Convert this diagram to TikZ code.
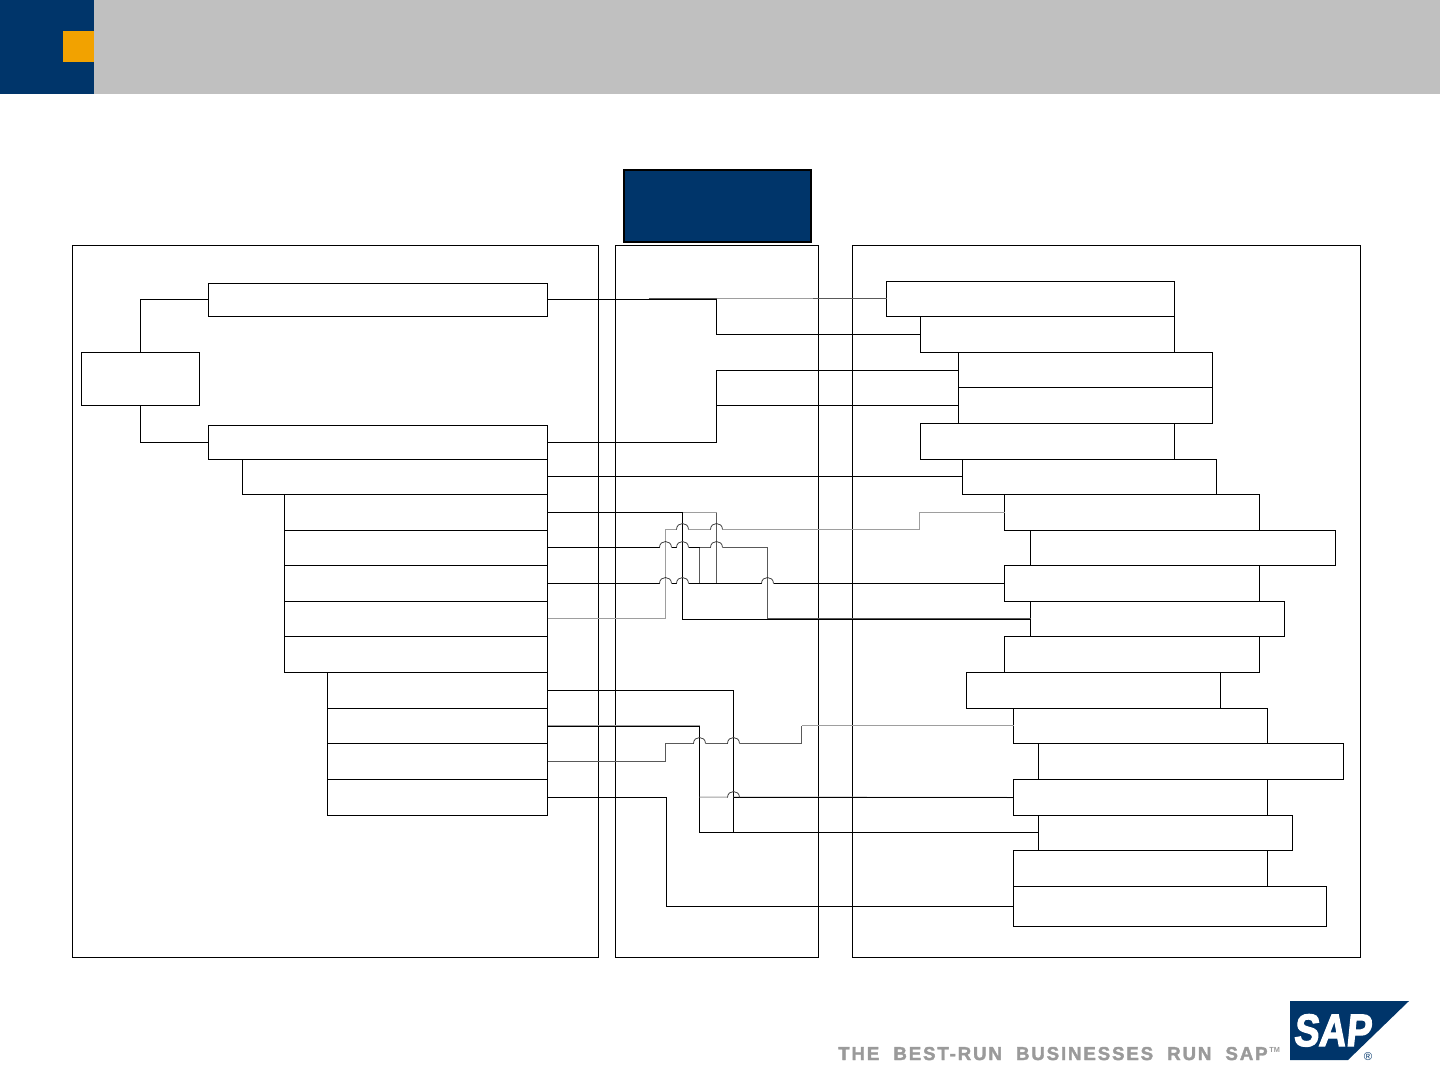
\documentclass[tikz,border=0pt]{standalone}
\usepackage{fontspec}
\setmainfont{Liberation Sans}
\newfontfamily\slogfont[LetterSpace=10,WordSpace=2,BoldFeatures={FakeBold=2}]{Liberation Sans}
\newfontfamily\sapfont[BoldFeatures={FakeBold=3,FakeSlant=0.12}]{Liberation Sans}
\definecolor{navy}{HTML}{00356A}
\definecolor{sapor}{HTML}{F2A200}
\definecolor{hdgray}{HTML}{C0C0C0}
\definecolor{slog}{HTML}{9A9A9A}
\tikzset{
  pb/.style={draw=black,line width=0.75pt,inner sep=0pt,outer sep=0pt},
  lnk/.style={draw=black,line width=0.75pt},
  lnkmid/.style={draw=black!65,line width=0.75pt},
  lnklight/.style={draw=black!38,line width=0.75pt},
  hop/.style={draw=black!80,line width=0.55pt},
  up/.style={yshift=0.375pt},
  dn/.style={yshift=-0.375pt}
}
\newcommand{\pbx}[5]{%
  \pgfmathsetlengthmacro{\pbw}{(#4-#2)*0.75pt}%
  \pgfmathsetlengthmacro{\pbh}{(#5-#3)*0.75pt}%
  \node[pb,minimum width=\pbw,minimum height=\pbh] (#1) at ({(#2+#4)/2},{(#3+#5)/2}) {};}
\begin{document}
\begin{tikzpicture}[x=0.75pt,y=-0.75pt]
\useasboundingbox (0,0) rectangle (1440,1065);
% header
\fill[hdgray] (94,0) rectangle (1440,94);
\fill[navy] (0,0) rectangle (94,94);
\fill[sapor] (63,31) rectangle (94,62);
\begin{scope}[shift={(0.5,0.5)}]
% panels
\pbx{panL}{72}{245}{598}{957}
\pbx{panM}{615}{245}{818}{957}
\pbx{panR}{852}{245}{1360}{957}
% title box
\pgfmathsetlengthmacro{\tw}{187*0.75pt}\pgfmathsetlengthmacro{\th}{72*0.75pt}
\node[draw=black,fill=navy,line width=1.5pt,inner sep=0pt,minimum width=\tw,minimum height=\th] (title) at (717,205.5) {};
% left boxes
\pbx{root}{81}{352}{199}{405}
\pbx{La}{208}{283}{547}{316}
\pbx{Lb}{208}{425}{547}{459}
\pbx{Lc}{242}{459}{547}{494}
\pbx{Ld}{284}{494}{547}{530}
\pbx{Le}{284}{530}{547}{565}
\pbx{Lf}{284}{565}{547}{601}
\pbx{Lg}{284}{601}{547}{636}
\pbx{Lh}{284}{636}{547}{672}
\pbx{Li}{327}{672}{547}{708}
\pbx{Lj}{327}{708}{547}{743}
\pbx{Lk}{327}{743}{547}{779}
\pbx{Ll}{327}{779}{547}{815}
% right boxes
\pbx{Ra}{886}{281}{1174}{316}
\pbx{Rb}{920}{316}{1174}{352}
\pbx{Rc}{958}{352}{1212}{387}
\pbx{Rd}{958}{387}{1212}{423}
\pbx{Re}{920}{423}{1174}{459}
\pbx{Rf}{962}{459}{1216}{494}
\pbx{Rg}{1004}{494}{1259}{530}
\pbx{Rh}{1030}{530}{1335}{565}
\pbx{Ri}{1004}{565}{1259}{601}
\pbx{Rj}{1030}{601}{1284}{636}
\pbx{Rk}{1004}{636}{1259}{672}
\pbx{Rl}{966}{672}{1220}{708}
\pbx{Rm}{1013}{708}{1267}{743}
\pbx{Rn}{1038}{743}{1343}{779}
\pbx{Ro}{1013}{779}{1267}{815}
\pbx{Rp}{1038}{815}{1292}{850}
\pbx{Rq}{1013}{850}{1267}{886}
\pbx{Rr}{1013}{886}{1326}{926}
% left tree
\draw[lnk] (root.north) |- ([up]La.west);
\draw[lnk] (root.south) |- (Lb.west);
% top group
\coordinate (graystart) at (648,298);
\draw[lnkmid] (graystart) -- ([up]Ra.west);
\draw[lnklight] (716,298) -- (812,298);
\draw[lnk] ([up]La.east) -- (716,299) |- (Rb.west);
\draw[lnk] (Lb.east) -- (716,442) |- ([dn]Rc.west);
\draw[lnk] (716,405) -- (Rd.west);
\draw[lnk] ([up]Lc.east) -- ([up]Rf.west);
% middle group
\draw[lnklight] (Ld.east) ++(0,-0.5) -- (716,511.5);
\draw[lnkmid] (716,512) -- (716,583);
\draw[lnklight] ([up]Lg.east) -- (665,618) -- (665,529) -- (676,529) (688,529) -- (710,529) (722,529) -- (919,529) -- (919,512) -- (Rg.west);
\draw[lnk] (Ld.east) -- (682,512) -- (682,619) -- ([dn]Rj.west);
\draw[lnk] ([up]Le.east) -- (659,547) (671,547) -- (676,547) (688,547) -- (699,547);
\draw[lnkmid] (699,547) -- (710,547) (722,547) -- (767,547) -- (767,618) -- ([up]Rj.west);
\draw[lnkmid] (699,547) -- (699,583);
\draw[lnk] (Lf.east) -- (659,583) (671,583) -- (676,583) (688,583) -- (761,583) (773,583) -- (Ri.west);
% lower group
\draw[lnklight] ([up]Lj.east) -- (699,725);
\draw[lnk] (Li.east) -- (733,690) -- (733,832);
\draw[lnk] ([dn]Lj.east) -- (699,726) -- (699,832) -- ([up]Rp.west);
\draw[lnkmid] (Lk.east) -- (665,761) -- (665,743) -- (693,743) (705,743) -- (727,743) (739,743) -- (801,743) -- (801,725);
\draw[lnklight] (801,725) -- ([up]Rm.west);
\draw[lnklight] (699,796.5) -- (727,796.5) (733,796.5) -- (Ro.west);
\draw[lnk] (733,797) -- (Ro.west);
\draw[lnk] (Ll.east) -- (666,797) -- (666,906) -- (Rr.west);
% hops
\foreach \hx/\hy in {682/529,716/529,665/547,682/547,716/547,665/583,682/583,767/583,699/743,733/743,733/797}
  \draw[hop] ({\hx-6},\hy) .. controls ({\hx-6},{\hy-8}) and ({\hx+6},{\hy-8}) .. ({\hx+6},\hy);
\end{scope}
% logo
\fill[navy] (1290,1001) -- (1409,1001) -- (1348,1060) -- (1290,1060) -- cycle;
\node[text=white,inner sep=0pt,font=\sapfont\bfseries\fontsize{34}{34}\selectfont,xscale=0.83,anchor=base] (saptext) at (1332,1046) {SAP};
\node[text=navy,inner sep=0pt,font=\fontsize{8.5}{8.5}\selectfont] (reg) at (1368,1056.5) {®};
\node[text=slog,inner sep=0pt,anchor=base west,font=\slogfont\bfseries\fontsize{14}{14}\selectfont] (slogan) at (838,1060) {THE BEST-RUN BUSINESSES RUN SAP};
\node[text=slog,inner sep=0pt,anchor=base west,font=\bfseries\fontsize{5.5}{5.5}\selectfont] (tm) at (1269,1052) {TM};
\end{tikzpicture}
\end{document}
